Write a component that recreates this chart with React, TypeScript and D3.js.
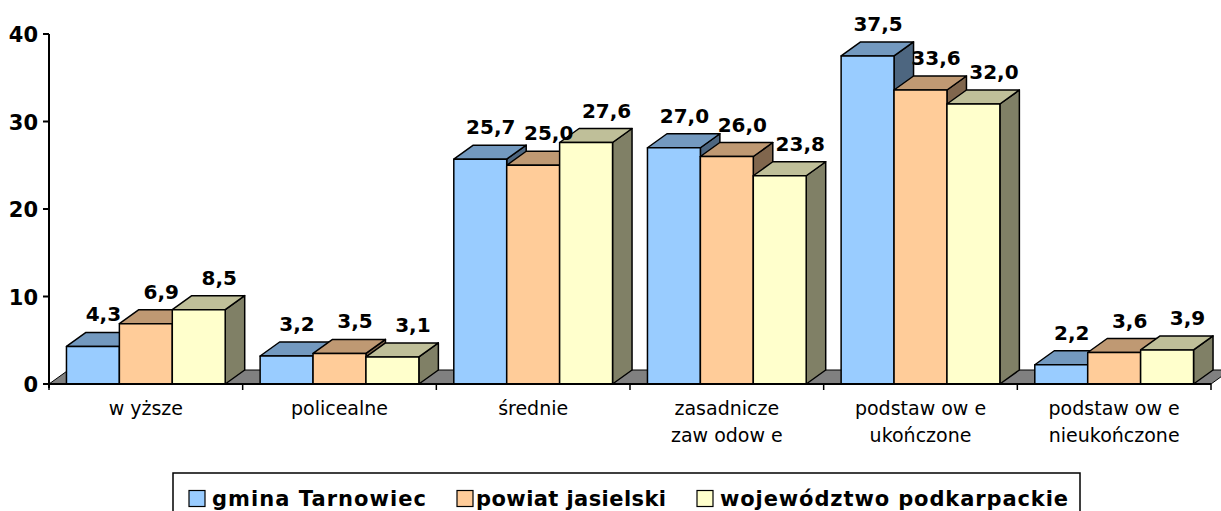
import React from "react";
import * as d3 from "d3";

const categoryLines: string[][] = [
  ["w yższe"],
  ["policealne"],
  ["średnie"],
  ["zasadnicze", "zaw odow e"],
  ["podstaw ow e", "ukończone"],
  ["podstaw ow e", "nieukończone"],
];
const seriesNames = ["gmina Tarnowiec", "powiat jasielski", "województwo podkarpackie"];
const gmina = [4.3, 3.2, 25.7, 27.0, 37.5, 2.2];
const powiat = [6.9, 3.5, 25.0, 26.0, 33.6, 3.6];
const wojewodztwo = [8.5, 3.1, 27.6, 23.8, 32.0, 3.9];
const yTicks = [0, 10, 20, 30, 40];

const seriesValues = [gmina, powiat, wojewodztwo];
const frontColors = ["#99CCFF", "#FFCC99", "#FFFFCC"];
const topColors = ["#7399BF", "#BF9973", "#BFBF99"];
const sideColors = ["#4D6680", "#80664D", "#808066"];

const W = 1221;
const H = 511;
const DX = 19.5;
const DY = 14;
const FONT = "'DejaVu Sans', Verdana, sans-serif";

export default function App() {
  const catIdx = categoryLines.map((_, i) => String(i));
  const x0 = d3.scaleBand<string>().domain(catIdx).range([49, 1211]).paddingInner(0).paddingOuter(0);
  const x1 = d3
    .scaleBand<string>()
    .domain(seriesNames)
    .range([0, x0.bandwidth()])
    .paddingInner(0)
    .paddingOuter(0.33);
  const y = d3.scaleLinear().domain([0, 40]).range([384, 34]);
  const y0 = y(0);
  const bw = x1.bandwidth();

  const fmt = (v: number) => v.toFixed(1).replace(".", ",");

  const bars: React.ReactNode[] = [];
  const labels: React.ReactNode[] = [];
  catIdx.forEach((c, ci) => {
    seriesNames.forEach((s, si) => {
      const v = seriesValues[si][ci];
      const xl = (x0(c) as number) + (x1(s) as number);
      const xr = xl + bw;
      const yt = y(v);
      const top = `${xl},${yt} ${xr},${yt} ${xr + DX},${yt - DY} ${xl + DX},${yt - DY}`;
      const side = `${xr},${yt} ${xr + DX},${yt - DY} ${xr + DX},${y0 - DY} ${xr},${y0}`;
      bars.push(
        <g key={`b-${ci}-${si}`} stroke="#000" strokeWidth={1.5} strokeLinejoin="round">
          <polygon points={side} fill={sideColors[si]} />
          <polygon points={top} fill={topColors[si]} />
          <rect x={xl} y={yt} width={bw} height={y0 - yt} fill={frontColors[si]} />
        </g>
      );
      labels.push(
        <text
          key={`l-${ci}-${si}`}
          x={(xl + xr) / 2 + 10.5 + 5 * si}
          y={yt - DY - 11}
          textAnchor="middle"
          fontFamily={FONT}
          fontWeight="bold"
          fontSize={20}
          fill="#000"
        >
          {fmt(v)}
        </text>
      );
    });
  });

  const floor = `49,${y0} 1211,${y0} ${1211 + DX},${y0 - DY} ${49 + DX},${y0 - DY}`;

  const legendItems = [
    { sq: 189, tx: 212, len: 214 },
    { sq: 457, tx: 476, len: 190 },
    { sq: 697, tx: 720, len: 348 },
  ];

  return (
    <div style={{ position: "fixed", left: 0, top: 0, background: "#fff" }}>
      <svg width={W} height={H} style={{ display: "block" }}>
        <rect x={0} y={0} width={W} height={H} fill="#fff" />
        <polygon points={floor} fill="#808080" stroke="#000" strokeWidth={1} />
        {bars}
        {/* value axis */}
        <line x1={49} x2={49} y1={y(40)} y2={y0 + 4} stroke="#000" strokeWidth={2} />
        {yTicks.map((t) => (
          <g key={`yt-${t}`}>
            <line x1={43} x2={49} y1={y(t)} y2={y(t)} stroke="#000" strokeWidth={2} />
            <text
              x={38}
              y={y(t) + 8}
              textAnchor="end"
              fontFamily={FONT}
              fontWeight="bold"
              fontSize={21}
              fill="#000"
            >
              {t}
            </text>
          </g>
        ))}
        {/* category axis */}
        <line x1={49} x2={1211} y1={y0} y2={y0} stroke="#000" strokeWidth={2} />
        {d3.range(categoryLines.length + 1).map((i) => {
          const xx = i < categoryLines.length ? (x0(String(i)) as number) : x0.range()[1];
          return <line key={`xt-${i}`} x1={xx} x2={xx} y1={y0} y2={y0 + 6} stroke="#000" strokeWidth={1.5} />;
        })}
        {categoryLines.map((lines, i) => (
          <text
            key={`cl-${i}`}
            textAnchor="middle"
            fontFamily={FONT}
            fontSize={19}
            fill="#000"
          >
            {lines.map((ln, j) => (
              <tspan key={j} x={(x0(String(i)) as number) + x0.bandwidth() / 2} y={415 + j * 27}>
                {ln}
              </tspan>
            ))}
          </text>
        ))}
        {labels}
        {/* legend */}
        <rect x={173} y={473} width={907} height={60} fill="#fff" stroke="#000" strokeWidth={1.5} />
        {seriesNames.map((s, i) => (
          <g key={`lg-${i}`}>
            <rect x={legendItems[i].sq} y={490.5} width={16} height={16} fill={frontColors[i]} stroke="#000" strokeWidth={1.2} />
            <text
              x={legendItems[i].tx}
              y={506}
              fontFamily={FONT}
              fontWeight="bold"
              fontSize={21}
              textLength={legendItems[i].len}
              lengthAdjust="spacing"
              fill="#000"
            >
              {s}
            </text>
          </g>
        ))}
      </svg>
    </div>
  );
}
